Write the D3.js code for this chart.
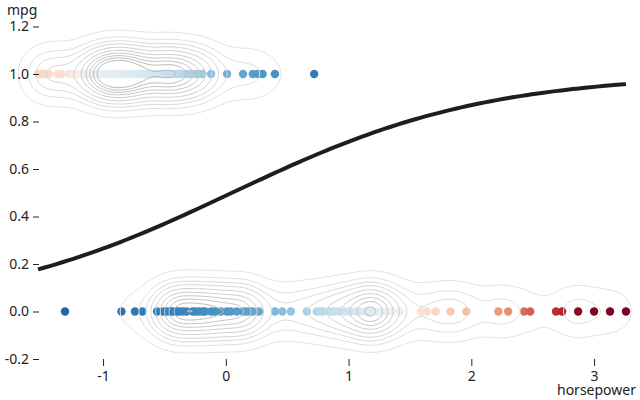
<!DOCTYPE html>
<html>
<head>
<meta charset="utf-8">
<script src="https://cdn.jsdelivr.net/npm/d3@7"></script>
<style>
  body { margin: 0; background: #fff; }
  text { font-family: "Noto Sans", sans-serif; }
</style>
</head>
<body>
<div id="chart"></div>
<script>
// horsepower (standardised) of cars with mpg == 1 and their counts
var hiX = [-1.53,-1.50,-1.47,-1.44,-1.37,-1.34,-1.28,-1.24,-1.21,-1.17,-1.15,-1.13,-1.10,-1.07,-1.05,-1.02,-0.99,-0.97,-0.94,-0.92,-0.89,-0.86,-0.84,-0.81,-0.79,-0.77,-0.74,-0.71,-0.69,-0.66,-0.64,-0.61,-0.58,-0.56,-0.53,-0.51,-0.48,-0.45,-0.43,-0.40,-0.38,-0.35,-0.32,-0.30,-0.27,-0.25,-0.22,-0.19,-0.12,0.01,0.14,0.22,0.26,0.30,0.40,0.72]
var hiN = [2,1,3,2,3,2,1,1,1,1,3,1,1,1,3,10,1,12,6,1,1,10,5,5,2,12,2,1,4,1,6,2,1,2,5,6,4,1,8,1,8,1,4,1,1,5,3,5,3,2,3,1,1,1,1,1]

// horsepower (standardised) of cars with mpg == 0 and their counts
var loX = [-1.31,-0.85,-0.74,-0.68,-0.56,-0.51,-0.48,-0.45,-0.43,-0.40,-0.38,-0.35,-0.32,-0.27,-0.25,-0.22,-0.19,-0.17,-0.12,-0.09,-0.04,0.01,0.04,0.09,0.14,0.17,0.20,0.22,0.27,0.40,0.46,0.53,0.66,0.74,0.77,0.79,0.84,0.87,0.89,0.92,0.97,1.01,1.06,1.09,1.14,1.16,1.19,1.24,1.26,1.31,1.36,1.42,1.59,1.64,1.71,1.83,1.96,2.22,2.30,2.43,2.48,2.69,2.74,2.87,3.00,3.13,3.26]
var loN = [1,1,1,1,1,3,1,1,11,1,12,1,2,1,9,2,5,1,13,2,1,10,1,2,15,1,3,1,3,3,1,3,5,2,1,1,1,1,2,7,1,1,7,1,1,2,22,2,2,1,5,4,2,1,4,5,5,5,1,2,1,1,1,5,1,3,1]

// logistic fit
var intercept = -0.05
var slope = 0.97

var yTicks = [-0.2, 0.0, 0.2, 0.4, 0.6, 0.8, 1.0, 1.2]
var xTicks = [-1, 0, 1, 2, 3]

var dims = { width: 640, height: 400 }

var svg = d3.select("#chart").append("svg")
    .attr("width", dims.width)
    .attr("height", dims.height)

var x = d3.scaleLinear().domain([-1.53, 3.26]).range([38, 626])
var y = d3.scaleLinear().domain([-0.2, 1.2]).range([359, 26.5])

// point colours (diverging, per row)
var hiT = d3.scaleLinear()
    .domain([-1.53, -1.34, -1.1, -0.5, -0.2, 0.0, 0.3, 0.72])
    .range([0.40, 0.42, 0.52, 0.60, 0.68, 0.74, 0.79, 0.85]).clamp(true)
var loT = d3.scaleLinear()
    .domain([-1.31, -0.85, -0.3, 0.2, 0.5, 0.8, 1.2, 1.45, 1.7, 1.96, 2.3, 2.48, 2.74, 2.9, 3.26])
    .range([0.9, 0.87, 0.83, 0.77, 0.70, 0.63, 0.56, 0.46, 0.40, 0.34, 0.27, 0.20, 0.11, 0.03, 0.02]).clamp(true)

var points = []
hiX.forEach((v, i) => points.push({ x: v, y: 1, n: hiN[i], c: d3.interpolateRdBu(hiT(v)) }))
loX.forEach((v, i) => points.push({ x: v, y: 0, n: loN[i], c: d3.interpolateRdBu(loT(v)) }))

// scatter
svg.append("g")
    .selectAll("circle")
    .data(points)
    .enter()
    .append("circle")
    .attr("cx", d => x(d.x))
    .attr("cy", d => y(d.y))
    .attr("r", 4.2)
    .style("fill", d => d.c)

// kde grid in pixel space
var step = 2
var gw = dims.width / step, gh = dims.height / step
var bx = 15, by = 17
var grid = new Float64Array(gw * gh)
points.forEach(p => {
    var px = x(p.x), py = y(p.y)
    for (var j = 0; j < gh; j++) {
        var dy = (j * step + step / 2 - py) / by
        if (Math.abs(dy) > 5) continue
        var ey = Math.exp(-0.5 * dy * dy)
        for (var i = 0; i < gw; i++) {
            var dx = (i * step + step / 2 - px) / bx
            if (Math.abs(dx) > 5) continue
            grid[j * gw + i] += p.n * ey * Math.exp(-0.5 * dx * dx)
        }
    }
})

// iso-proportion levels
var sorted = Array.from(grid).sort((a, b) => a - b)
var total = d3.sum(sorted)
var levels = d3.range(0.05, 1, 0.095)
var thresholds = []
var cum = 0, k = 0
levels.forEach(lv => {
    while (k < sorted.length && cum < lv * total) { cum += sorted[k]; k++ }
    thresholds.push(sorted[Math.max(0, k - 1)])
})

var contours = d3.contours().size([gw, gh]).thresholds(thresholds)(grid)
var lineColor = d3.scaleLinear().domain([0, thresholds.length - 1]).range(["#e4e4e4", "#bcbcbc"])

svg.append("g")
    .selectAll("path")
    .data(contours)
    .enter()
    .append("path")
    .attr("d", d3.geoPath(d3.geoIdentity().scale(step)))
    .attr("fill", "none")
    .attr("stroke", (d, i) => lineColor(i))
    .attr("stroke-width", 1)

// logistic curve
var curveX = d3.range(0, 101).map(i => x.domain()[0] + i / 100 * (x.domain()[1] - x.domain()[0]))
var line = d3.line()
    .x(d => x(d))
    .y(d => y(1 / (1 + Math.exp(-(intercept + slope * d)))))

svg.append("path")
    .datum(curveX)
    .attr("d", line)
    .attr("fill", "none")
    .attr("stroke", "#1b1e23")
    .attr("stroke-width", 4)

// axes
var yAxis = svg.append("g")
    .attr("transform", "translate(39,0)")
    .call(d3.axisLeft(y).tickValues(yTicks).tickFormat(d => d.toFixed(1)).tickSize(6).tickPadding(4))
var xAxis = svg.append("g")
    .attr("transform", "translate(0,359)")
    .call(d3.axisBottom(x).tickValues(xTicks).tickFormat(d => String(d)).tickSize(7).tickPadding(5))

;[yAxis, xAxis].forEach(a => {
    a.select(".domain").remove()
    a.selectAll("line").attr("stroke", "#222")
    a.selectAll("text").attr("fill", "#222").attr("font-size", "14px").attr("font-family", "Noto Sans")
})

svg.append("text")
    .attr("x", 7)
    .attr("y", 15)
    .attr("font-size", "14px")
    .attr("fill", "#222")
    .text("mpg")

svg.append("text")
    .attr("x", 557)
    .attr("y", 395)
    .attr("font-size", "14px")
    .attr("fill", "#222")
    .text("horsepower →")
</script>
</body>
</html>
